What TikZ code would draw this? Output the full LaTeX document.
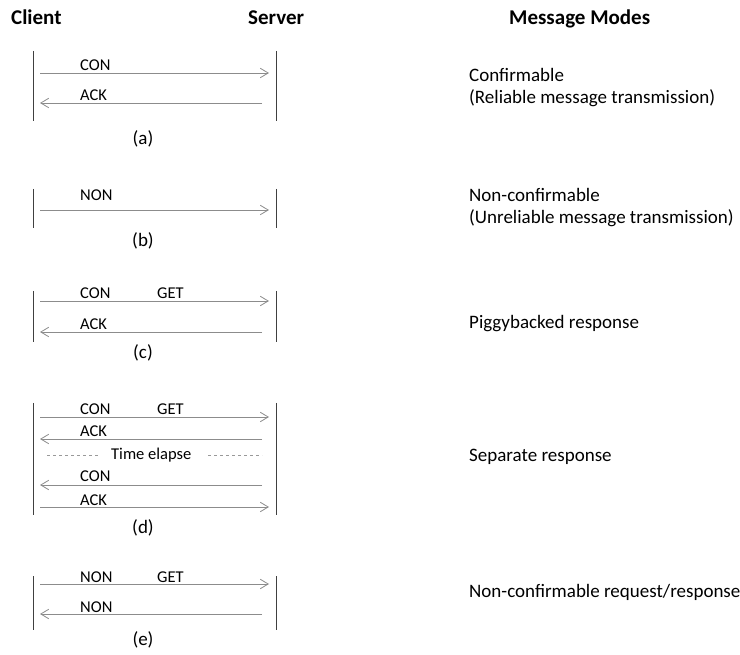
\documentclass[tikz,border=0pt]{standalone}
\usepackage{fontspec}
\setmainfont{Carlito}
\usetikzlibrary{arrows.meta}
\begin{document}
\begin{tikzpicture}[x=1pt,y=-1pt,
  lifeline/.style={draw=black!75,line width=0.9pt},
  msg/.style={draw=black!45,line width=0.8pt,-{Straight Barb[length=8pt,width=9.5pt]}},
  lbl/.style={anchor=base west,inner sep=0pt,font=\fontsize{16.5}{18}\selectfont},
  head/.style={anchor=base west,inner sep=0pt,font=\fontsize{21}{23}\selectfont\bfseries},
  subcap/.style={inner sep=0pt,font=\fontsize{19}{21}\selectfont},
  mode/.style={anchor=base west,inner sep=0pt,align=left,font=\fontsize{19}{22}\selectfont},
  gap/.style={draw=black!40,dashed,line width=0.7pt}]
\useasboundingbox (0,0) rectangle (740,655);
% headers
\node[head] (hc) at (11,25) {Client};
\node[head] (hs) at (248,25) {Server};
\node[head] (hm) at (509,25) {Message Modes};
% (a)
\coordinate (a1) at (33,51); \coordinate (a2) at (33,121);
\coordinate (a3) at (276,51); \coordinate (a4) at (276,121);
\draw[lifeline] (a1) -- (a2); \draw[lifeline] (a3) -- (a4);
\coordinate (ac1) at (40,73); \coordinate (ac2) at (269,73);
\coordinate (ak1) at (262,103); \coordinate (ak2) at (40,103);
\draw[msg] (ac1) -- (ac2); \draw[msg] (ak1) -- (ak2);
\node[lbl] (acl) at (80,71) {CON};
\node[lbl] (akl) at (80,101) {ACK};
\node[subcap] (acap) at (143,139) {(a)};
\node[mode] (amode) at (469,104) {Confirmable\\(Reliable message transmission)};
% (b)
\coordinate (b1) at (33,189); \coordinate (b2) at (33,228);
\coordinate (b3) at (276,189); \coordinate (b4) at (276,228);
\draw[lifeline] (b1) -- (b2); \draw[lifeline] (b3) -- (b4);
\coordinate (bn1) at (40,210); \coordinate (bn2) at (269,210);
\draw[msg] (bn1) -- (bn2);
\node[lbl] (bnl) at (80,201) {NON};
\node[subcap] (bcap) at (143,241) {(b)};
\node[mode] (bmode) at (469,224) {Non-confirmable\\(Unreliable message transmission)};
% (c)
\coordinate (c1) at (33,291); \coordinate (c2) at (33,342);
\coordinate (c3) at (276,291); \coordinate (c4) at (276,342);
\draw[lifeline] (c1) -- (c2); \draw[lifeline] (c3) -- (c4);
\coordinate (cc1) at (40,301); \coordinate (cc2) at (269,301);
\coordinate (ck1) at (262,332); \coordinate (ck2) at (40,332);
\draw[msg] (cc1) -- (cc2); \draw[msg] (ck1) -- (ck2);
\node[lbl] (ccl) at (80,299) {CON};
\node[lbl] (cgl) at (157,299) {GET};
\node[lbl] (ckl) at (80,330) {ACK};
\node[subcap] (ccap) at (143,353) {(c)};
\node[mode] (cmode) at (469,329) {Piggybacked response};
% (d)
\coordinate (d1) at (33,403); \coordinate (d2) at (33,515);
\coordinate (d3) at (276,403); \coordinate (d4) at (276,515);
\draw[lifeline] (d1) -- (d2); \draw[lifeline] (d3) -- (d4);
\coordinate (dc1) at (40,417); \coordinate (dc2) at (269,417);
\coordinate (dk1) at (262,439); \coordinate (dk2) at (40,439);
\coordinate (dr1) at (262,485); \coordinate (dr2) at (40,485);
\coordinate (da1) at (40,507); \coordinate (da2) at (269,507);
\draw[msg] (dc1) -- (dc2); \draw[msg] (dk1) -- (dk2);
\draw[msg] (dr1) -- (dr2); \draw[msg] (da1) -- (da2);
\node[lbl] (dcl) at (80,415) {CON};
\node[lbl] (dgl) at (157,415) {GET};
\node[lbl] (dkl) at (80,437) {ACK};
\node[lbl] (dtl) at (111,460) {Time elapse};
\coordinate (dd1) at (47,455); \coordinate (dd2) at (100,455);
\coordinate (dd3) at (208,455); \coordinate (dd4) at (262,455);
\draw[gap] (dd1) -- (dd2); \draw[gap] (dd3) -- (dd4);
\node[lbl] (drl) at (80,482) {CON};
\node[lbl] (dal) at (80,505) {ACK};
\node[subcap] (dcap) at (143,528) {(d)};
\node[mode] (dmode) at (469,461) {Separate response};
% (e)
\coordinate (e1) at (33,576); \coordinate (e2) at (33,630);
\coordinate (e3) at (276,576); \coordinate (e4) at (276,630);
\draw[lifeline] (e1) -- (e2); \draw[lifeline] (e3) -- (e4);
\coordinate (en1) at (40,584); \coordinate (en2) at (269,584);
\coordinate (er1) at (262,614); \coordinate (er2) at (40,614);
\draw[msg] (en1) -- (en2); \draw[msg] (er1) -- (er2);
\node[lbl] (enl) at (80,582) {NON};
\node[lbl] (egl) at (157,582) {GET};
\node[lbl] (erl) at (80,612) {NON};
\node[subcap] (ecap) at (143,640) {(e)};
\node[mode] (emode) at (469,597) {Non-confirmable request/response};
\end{tikzpicture}
\end{document}
